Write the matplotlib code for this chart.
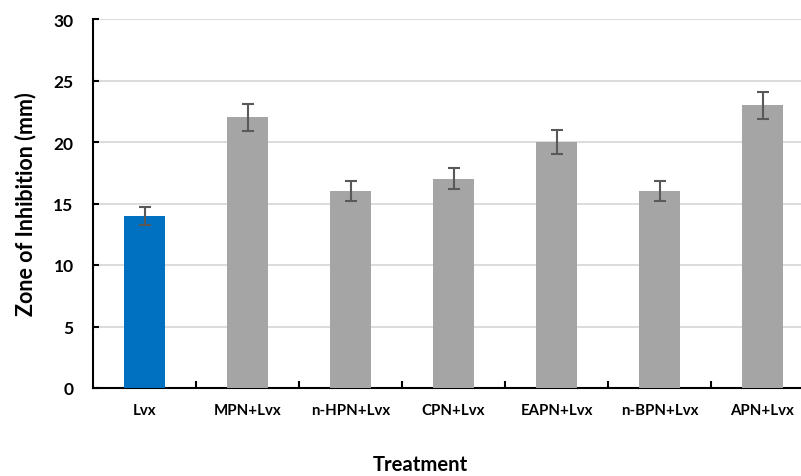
import matplotlib
matplotlib.use("Agg")
import matplotlib.pyplot as plt

treatments = ["Lvx", "MPN+Lvx", "n-HPN+Lvx", "CPN+Lvx", "EAPN+Lvx", "n-BPN+Lvx", "APN+Lvx"]
zone_mm = [14, 22, 16, 17, 20, 16, 23]
zone_err = [0.75, 1.1, 0.8, 0.85, 1.0, 0.8, 1.1]
bar_colors = ["#0070c0"] + ["#a5a5a5"] * 6
yticks = [0, 5, 10, 15, 20, 25, 30]

plt.rcParams["font.family"] = ["Lato", "DejaVu Sans"]

fig = plt.figure(figsize=(8.01, 4.77), dpi=100)
ax = fig.add_axes([93 / 801, 88 / 477, 721 / 801, 369 / 477])

x = list(range(len(treatments)))
ax.bar(x, zone_mm, width=0.4, color=bar_colors, zorder=3)
ax.errorbar(x, zone_mm, yerr=zone_err, fmt="none", ecolor="#595959",
            elinewidth=1.5, capsize=4, capthick=1.5, zorder=4)

ax.set_xlim(-0.5, len(treatments) - 0.5)
ax.set_ylim(0, 30)
ax.set_yticks(yticks)
ax.set_yticklabels([str(v) for v in yticks], fontsize=12.5, fontweight="bold")
ax.set_xticks(x)
ax.set_xticklabels(treatments, fontsize=10.8, fontweight="bold")
ax.tick_params(axis="x", length=0, pad=11)
ax.set_xticks([i + 0.5 for i in x[:-1]], minor=True)
ax.tick_params(axis="x", which="minor", direction="in", length=5, width=1.5)
ax.tick_params(axis="y", direction="in", length=4, width=1.5, pad=14)

ax.grid(axis="y", color="#d9d9d9", linewidth=1.3, zorder=0)
for s in ["top", "right"]:
    ax.spines[s].set_visible(False)
ax.spines["left"].set_linewidth(1.5)
ax.spines["bottom"].set_linewidth(1.5)

ax.set_ylabel("Zone of Inhibition (mm)", fontsize=15.5, fontweight="bold", labelpad=12)
fig.text(420 / 801, 1 - 465 / 477, "Treatment", fontsize=14.6, fontweight="bold",
         ha="center", va="center")

fig.savefig("out.png", dpi=100)
